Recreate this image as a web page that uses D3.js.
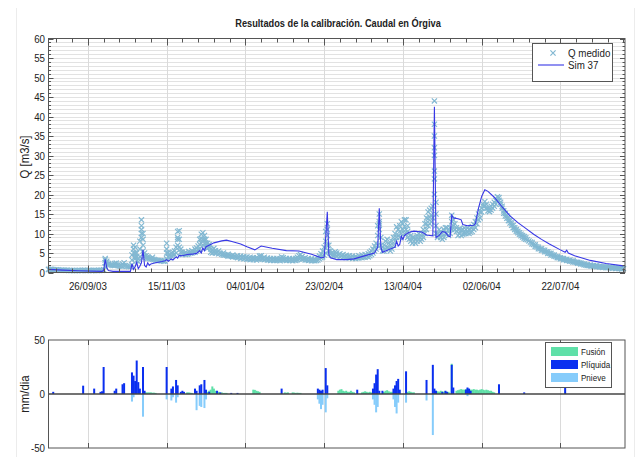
<!DOCTYPE html>
<html><head><meta charset="utf-8">
<script src="https://cdn.jsdelivr.net/npm/d3@7"></script>
<style>
body{margin:0;background:#fff}
text{font-family:"Liberation Sans Narrow","Liberation Sans",Arial,sans-serif;fill:#222}
</style>
</head><body>
<svg id="c" width="638" height="457"></svg>
<script>
// ---------------- DATA ----------------
const titleText = "Resultados de la calibración. Caudal en Órgiva";
const tickDates = ["2003-09-26","2003-11-15","2004-01-04","2004-02-23","2004-04-13","2004-06-02","2004-07-22"];
const tickLabels = ["26/09/03","15/11/03","04/01/04","23/02/04","13/04/04","02/06/04","22/07/04"];
const qTicks = [0,5,10,15,20,25,30,35,40,45,50,55,60];
const pTicks = [-50,0,50];

// observed discharge, daily (several readings on flood days), one array per month
const monthStarts = ["2003-09-01","2003-10-01","2003-11-01","2003-12-01","2004-01-01","2004-02-01",
  "2004-03-01","2004-04-01","2004-05-01","2004-06-01","2004-07-01","2004-08-01"];
const obsSep = [0.8,0.8,0.8,0.7,0.7,0.7,0.7,0.6,0.6,0.6,0.6,0.6,0.6,0.5,0.5,0.5,0.5,0.5,0.5,0.5,
  0.5,0.5,0.6,0.6,0.5,0.5,0.5,0.5,0.5,0.6];
const obsOct = [0.5,0.5,0.5,0.6,0.6,0.7,[1.5,2.5,3.6,3.2],[2.9,2.5],[2.3,2.0],2.0,1.9,1.8,[1.8,2.3],[1.9,2.4],
  1.9,1.7,1.6,[1.6,2.2],[1.8,2.5],1.8,1.6,1.5,1.5,[2,3.2,4.5],[5,7,6],[4,6.5,3.5,5],[3,4,5],[2.8,3.5],
  [4,6,8],[9,11,13.5,12,10],[10,8.5,7,5.5]];
const obsNov = [[5,4.2],[4.3,3.8],[4,3.6],3.6,3.5,[3.4,3.9],3.3,3.2,3.1,3.1,3.0,3.0,2.9,2.9,
  [3.5,5,6,7.5],[5,4],[4.5,3.8],[4.2,5],[4.4,5.2],[4.6,5.5],[5,6.5],[7,8.5,10.5,9],[10.7,8.5,6.5],
  [6,5.2],[5.2,4.6],4.8,[4.6,5.2],4.7,[4.8,5.4],5.0];
const obsDec = [[5,5.6],5.2,[5.2,6],[5.5,6.3],[5.8,6.8],[6,7.2,8.5],[7.5,8.7,9.8],[8.5,10.2,7],[7.5,8.5,9.5],
  [6.5,7.5,8.5],[6.2,7.5],[6.5,7.2],[5.2,6],[5,5.8],[5.2,6.2],[5,5.6],5.2,[4.8,5.5],4.9,4.7,[4.5,5],
  4.5,4.4,[4.2,4.7],4.3,4.2,[4,4.5],4.1,4.0,[3.8,4.3],3.9];
const obsJan = [[3.6,4.2],3.8,[3.5,4.1],3.7,[3.4,4],3.6,[3.3,3.9],3.5,[3.3,3.8],3.5,[3.2,3.8],3.4,
  [3.5,4.2],[3.6,4.3],3.6,[3.3,3.9],3.4,[3.2,3.7],3.3,[3.1,3.6],3.3,[3.1,3.6],3.2,[3.1,3.6],3.2,
  [3,3.5],[3.4,4],[3.3,3.8],3.3,[3.1,3.6],3.2];
const obsFeb = [[3.1,3.6],3.2,[3,3.5],3.2,[3.1,3.6],[3.3,3.9],[3.5,4.3],[3.6,4.6],[3.4,4.1],3.5,
  [3.2,3.8],3.3,[3.1,3.6],3.2,[3,3.5],3.1,[3,3.4],3.1,[3.2,3.8],[3.5,4.2],[3.8,4.8],[4,5.5],
  [4.5,6.5],[5,8,10.5],[12.5,11,9.5,7],[7,5.5],[5.5,4.8],[5,4.5],[4.8,4.3]];
const obsMar = [[4.5,5.3],[4.3,5],4.5,[4,4.8],4.3,[3.9,4.6],4.1,[3.8,4.4],4.0,[3.7,4.3],3.9,
  [3.6,4.2],3.8,[3.6,4.1],3.8,[3.7,4.3],3.9,[3.8,4.5],4.0,[3.9,4.6],4.2,[4,4.8],[4.3,5.2],
  [4.6,5.5],[5,6],[5.5,6.8],[6,7.5],[7,9.5,12],[12.5,15,13,11],[9,7],[6.5,5.5]];
const obsApr = [[5.5,7],[6,8],[6.5,8.5],[6,7.5],[5.5,7],[6,8],[7,9],[8,10],[9,11.7],[9.5,11],
  [9,10.5,12],[10,13],[11,12.5],[10,11.8,13.5],[11,13.5],[9,10.5,12],[8.5,10],[8,9.5],[7.5,9],[8,9],[7.5,8.5],
  [8,9.5],[8.5,10],[8,9],[8.5,10],[9,11],[10,12.5],[11,12.5,14],[12,13.8,15.5],[12.5,14.2,16]];
const obsMay = [[13,14.8,16.5],[14,17],[20,26,32,38,44,35,30,24],[18,15,12,10],[10,9],[9.5,11],[9,10.5],[8.5,10],
  [9,11],[10,11.5],[10,11.5],[9.5,11],[10,11.5],[11,13,14.7],[12,13.5],[11,12.5],[10.5,11.5],
  [9.5,11],[10,11.2],[9.5,10.8],[9.8,11],[10,11.4],[10,11],[10.2,11.4],[10,11],[10.3,11.5],
  [10.5,11.8],[11,12.3],[11.5,13],[12.5,14],[13.5,15]];
const obsJun = [[14,15.5],[15.5,16.5],[17,17.5],[18.2,17],[16.5,17.5],[15.8,16.5],[15.6,16.2],
  [16,17],[16.5,17.5],[17,18],[17.5,18.5],[18.5,19.4],[19.2,18.5],[17.5,18],[16.5,17],
  [15.2,15.8],[14.5,15.1],[13.9,14.5],[13.3,13.9],[12.7,13.3],[12.1,12.7],[11.5,12.1],
  [11,11.5],[10.6,11],[10.2,10.6],[9.8,10.2],[9.4,9.8],[9.1,9.5],[8.8,9.2],[8.5,8.9]];
const obsJul = [8.4,8.1,7.8,[7.3,7.7],7.2,[6.7,7.1],6.6,[6.1,6.5],6.1,[5.7,6.1],5.7,[5.3,5.7],5.3,
  [4.9,5.3],4.9,[4.5,4.9],4.5,[4.2,4.5],4.1,[3.8,4.1],3.8,[3.5,3.8],3.6,[3.3,3.6],3.3,[3.1,3.4],
  3.1,[2.9,3.2],2.9,[2.7,3.0],2.7];
const obsAug = [2.6,[2.4,2.6],2.4,[2.2,2.4],2.2,[2.0,2.2],1.9,[1.8,2.0],1.8,[1.7,1.9],1.7,[1.6,1.8],
  1.6,[1.5,1.7],1.5,[1.4,1.6],1.4,[1.3,1.5],1.4,[1.2,1.4],1.3,[1.2,1.4],1.2,[1.1,1.3],1.2,
  [1.0,1.2],1.1,[1.0,1.2],1.0,[0.9,1.1],1.0];
const obsMonths = [obsSep,obsOct,obsNov,obsDec,obsJan,obsFeb,obsMar,obsApr,obsMay,obsJun,obsJul,obsAug];

// simulated discharge "Sim 37"
const simSeries = [["2003-09-01",0.8],["2003-09-10",0.6],["2003-09-20",0.45],["2003-10-05",0.3],
 ["2003-10-06",0.5],["2003-10-07",3.4],["2003-10-08",1.2],["2003-10-09",0.5],["2003-10-12",0.3],
 ["2003-10-23",0.3],["2003-10-24",2.2],["2003-10-25",0.8],["2003-10-26",1.5],["2003-10-27",2.6],
 ["2003-10-28",1.0],["2003-10-29",1.6],["2003-10-30",2.5],["2003-10-31",5.8],["2003-11-01",1.8],
 ["2003-11-02",1.4],["2003-11-03",2.5],["2003-11-04",1.8],["2003-11-05",2.2],["2003-11-08",2.5],
 ["2003-11-12",2.8],["2003-11-14",3.0],["2003-11-15",3.3],["2003-11-16",2.9],["2003-11-18",3.5],
 ["2003-11-19",3.2],["2003-11-21",4.0],["2003-11-22",3.7],["2003-11-23",4.4],["2003-11-25",4.3],
 ["2003-11-28",4.6],["2003-12-01",4.7],["2003-12-04",4.9],["2003-12-06",5.6],["2003-12-07",5.0],
 ["2003-12-08",6.3],["2003-12-09",5.6],["2003-12-10",6.6],["2003-12-12",7.0],["2003-12-15",7.6],
 ["2003-12-20",8.1],["2003-12-23",8.3],["2003-12-27",7.9],["2004-01-01",7.3],["2004-01-05",6.6],
 ["2004-01-10",5.8],["2004-01-14",6.8],["2004-01-21",6.2],["2004-01-30",5.6],["2004-02-07",5.5],
 ["2004-02-15",4.7],["2004-02-21",3.8],["2004-02-23",3.9],["2004-02-24",9.0],["2004-02-25",15.6],
 ["2004-02-26",4.5],["2004-02-27",3.8],["2004-03-02",3.3],["2004-03-08",3.3],["2004-03-13",3.5],
 ["2004-03-19",4.2],["2004-03-26",5.0],["2004-03-28",6.5],["2004-03-29",16.5],["2004-03-30",6.5],
 ["2004-03-31",5.2],["2004-04-05",6.0],["2004-04-08",6.5],["2004-04-09",8.0],["2004-04-10",6.8],
 ["2004-04-11",7.2],["2004-04-12",9.3],["2004-04-13",8.5],["2004-04-14",9.5],["2004-04-15",9.8],
 ["2004-04-17",10.3],["2004-04-20",10.6],["2004-04-25",10.4],["2004-04-28",9.6],["2004-05-02",9.4],
 ["2004-05-03",42.5],["2004-05-04",9.0],["2004-05-06",9.5],["2004-05-08",10.5],["2004-05-10",10.3],
 ["2004-05-12",9.3],["2004-05-13",9.2],["2004-05-14",14.7],["2004-05-15",14.0],["2004-05-18",13.8],
 ["2004-05-20",13.5],["2004-05-21",12.3],["2004-05-24",12.0],["2004-05-28",12.1],["2004-05-29",12.5],
 ["2004-05-31",16.5],["2004-06-02",19.5],["2004-06-04",21.2],["2004-06-06",20.8],["2004-06-10",19.3],
 ["2004-06-15",16.8],["2004-06-20",14.5],["2004-06-25",12.8],["2004-06-30",11.3],["2004-07-05",9.8],
 ["2004-07-10",8.5],["2004-07-15",7.3],["2004-07-22",5.8],["2004-07-25",5.2],["2004-07-26",5.7],
 ["2004-07-27",5.0],["2004-07-31",4.3],["2004-08-10",3.1],["2004-08-20",2.3],["2004-08-31",1.7]];

// daily precipitation / melt (mm/dia)
const pLiquida = [["2003-09-04",2],["2003-09-23",7.7],["2003-09-30",5],["2003-10-04",2],["2003-10-05",2.5],
 ["2003-10-06",25],["2003-10-13",3],["2003-10-14",5],["2003-10-18",9],["2003-10-19",10],["2003-10-24",20],
 ["2003-10-25",17],["2003-10-26",12],["2003-10-27",31],["2003-10-28",11],["2003-10-29",5],["2003-10-31",25],
 ["2003-11-01",3],["2003-11-15",25],["2003-11-18",5],["2003-11-19",7],["2003-11-21",13],["2003-11-22",8],
 ["2003-11-24",2],["2003-11-25",3],["2003-11-26",2],["2003-12-03",5],["2003-12-04",3],["2003-12-06",8],
 ["2003-12-07",9],["2003-12-09",13],["2003-12-10",4],["2003-12-12",2],["2003-12-17",3],["2003-12-19",1.5],
 ["2003-12-26",1],["2003-12-30",1],["2004-01-27",5],["2004-02-19",5],["2004-02-20",4],["2004-02-21",3],
 ["2004-02-22",4],["2004-02-24",24],["2004-02-25",8],["2004-03-15",4],["2004-03-25",5],["2004-03-26",10],
 ["2004-03-27",18],["2004-03-28",23],["2004-03-29",3],["2004-03-31",3],["2004-04-07",5],["2004-04-08",8],
 ["2004-04-09",12],["2004-04-10",14],["2004-04-11",4],["2004-04-15",21],["2004-04-28",13],["2004-05-02",27],
 ["2004-05-03",5],["2004-05-04",3],["2004-05-08",2],["2004-05-10",3],["2004-05-11",2],["2004-05-14",27],
 ["2004-05-15",6],["2004-05-23",4],["2004-05-24",6],["2004-05-25",5],["2004-05-26",3],["2004-06-13",9],
 ["2004-06-29",1.5],["2004-07-25",6]];
const pNieve = [["2003-10-24",-7],["2003-10-25",-3],["2003-10-31",-21],["2003-11-15",-5],["2003-11-18",-6],
 ["2003-11-19",-3],["2003-11-21",-8],["2003-11-22",-3],["2003-12-04",-15],["2003-12-06",-11],
 ["2003-12-07",-12],["2003-12-09",-13],["2003-12-10",-5],["2004-02-19",-5],["2004-02-20",-9],
 ["2004-02-21",-14],["2004-02-22",-10],["2004-02-24",-17],["2004-02-25",-4],["2004-03-25",-5],
 ["2004-03-26",-10],["2004-03-27",-17],["2004-03-28",-12],["2004-04-07",-5],["2004-04-08",-12],
 ["2004-04-09",-18],["2004-04-10",-8],["2004-04-15",-8],["2004-04-28",-6],["2004-05-02",-38],["2004-05-24",-2]];
// snow melt, runs of consecutive days: [first day, values]
const fusionRuns = [["2003-11-02",[1.5,1.5,1.5,1.5,1.2,1.2,1]],["2003-11-28",[1.5,1.5,1.2,1]],
 ["2003-12-11",[2,3,4,7,5,3,2,2]],["2003-12-20",[1.5,1,1,1]],["2004-01-09",[4,3.8,3,2.5,2]],
 ["2004-01-29",[1.5,1.2,1.5]],["2004-02-03",[1.5,1.3,1,1.2,1,1]],
 ["2004-03-03",[3,4,4.5,3,2.5,3,2,2,3,2,1.5]],["2004-03-18",[1.5,2,2.5,2,1.5,2,1.5]],
 ["2004-04-01",[2,3,3.5,2.5,2,2]],["2004-04-16",[2,2.5,2,1.5,1.5]],
 ["2004-05-03",[2.5,3,2.5,2,3,2.5,2,2.5,2,2]],["2004-05-14",[28]],
 ["2004-05-17",[3,3.5,4,4.5,4,4,4.5,5,4.5,4,4,4.5,4,4,3.5,4,4.5,4,3.5,4,3.5,3,3,2,1.5]]];

// ---------------- CHART ----------------
const P = d3.utcParse("%Y-%m-%d");
const svg = d3.select("#c");
const L = 48.5, R = 625, T1 = 38.5, B1 = 272.5, T2 = 340, B2 = 448;
const SX = 0.85; // narrow lettering
const x = d3.scaleUtc().domain([P("2003-09-01"), P("2004-09-01")]).range([L, R]);
const y = d3.scaleLinear().domain([0, 60]).range([B1, T1]);
const yb = d3.scaleLinear().domain([-50, 50]).range([B2, T2]);
const majors = tickDates.map(P);
const minors = d3.utcDay.every(1).range(P("2003-09-06"), P("2004-09-01")).filter((d,i)=> i % 10 === 0);

function txt(parent, tx, ty, s, size, anchor, opts){
  const t = parent.append("text")
    .attr("transform", `translate(${tx},${ty}) ${opts && opts.rot ? "rotate(-90)" : ""} scale(${opts && opts.sx ? opts.sx : SX},1)`)
    .attr("font-size", size).attr("text-anchor", anchor || "start").text(s);
  if (opts && opts.dy) t.attr("dy", opts.dy);
  if (opts && opts.bold) t.attr("font-weight", "bold");
  return t;
}

// faint page frame lines
svg.append("line").attr("x1",16.5).attr("x2",16.5).attr("y1",8).attr("y2",457).attr("stroke","#ececec");
svg.append("line").attr("x1",634.5).attr("x2",634.5).attr("y1",8).attr("y2",457).attr("stroke","#ececec");

// ---- top panel ----
const g1 = svg.append("g");
g1.append("g").selectAll("line").data(d3.range(1,60)).join("line")
  .attr("x1",L).attr("x2",R).attr("y1",d=>Math.round(y(d))+0.5).attr("y2",d=>Math.round(y(d))+0.5)
  .attr("stroke","#e2e2e2").attr("stroke-width",1);
g1.append("g").selectAll("line").data(majors).join("line")
  .attr("x1",d=>Math.round(x(d))+0.5).attr("x2",d=>Math.round(x(d))+0.5).attr("y1",T1).attr("y2",B1)
  .attr("stroke","#dadada");

// observed markers
const obsPts = [];
obsMonths.forEach((arr, m) => {
  const s = P(monthStarts[m]);
  arr.forEach((v, i) => {
    const d = d3.utcDay.offset(s, i);
    (Array.isArray(v) ? v : [v]).forEach(q => obsPts.push([d, q]));
  });
});
const XM = "M-2.6,-2.6L2.6,2.6M-2.6,2.6L2.6,-2.6";
g1.append("g").selectAll("path").data(obsPts).join("path")
  .attr("transform", d => `translate(${x(d[0])},${y(d[1])})`)
  .attr("d", XM)
  .attr("stroke","#82b8d2").attr("stroke-width",1.2).attr("fill","none");

// simulated line
g1.append("path").datum(simSeries.map(d=>[P(d[0]), d[1]]))
  .attr("d", d3.line().x(d=>x(d[0])).y(d=>y(d[1])))
  .attr("fill","none").attr("stroke","#3838e6").attr("stroke-width",1.1);

// frame and ticks
g1.append("rect").attr("x",L).attr("y",T1).attr("width",R-L).attr("height",B1-T1)
  .attr("fill","none").attr("stroke","#555").attr("stroke-width",1);
const tk = g1.append("g").attr("stroke","#555").attr("stroke-width",1);
majors.forEach(d=>{ const xx=Math.round(x(d))+0.5;
  tk.append("line").attr("x1",xx).attr("x2",xx).attr("y1",B1).attr("y2",B1-7);
  tk.append("line").attr("x1",xx).attr("x2",xx).attr("y1",T1).attr("y2",T1+7); });
minors.forEach(d=>{ const xx=Math.round(x(d))+0.5;
  tk.append("line").attr("x1",xx).attr("x2",xx).attr("y1",B1).attr("y2",B1-4);
  tk.append("line").attr("x1",xx).attr("x2",xx).attr("y1",T1).attr("y2",T1+4); });
d3.range(0,61).forEach(v=>{ const yy=Math.round(y(v))+0.5, len = v%5===0?5:2.5;
  tk.append("line").attr("x1",L).attr("x2",L+len).attr("y1",yy).attr("y2",yy);
  tk.append("line").attr("x1",R).attr("x2",R-len).attr("y1",yy).attr("y2",yy); });

qTicks.forEach(v => txt(g1, 45, y(v), v, 11.5, "end", {dy:"0.36em"}));
majors.forEach((d,i) => txt(g1, x(d), 290, tickLabels[i], 11.5, "middle"));
txt(g1, 29, 157, "Q [m3/s]", 12, "middle", {rot:true, sx:0.95});
txt(svg, 338, 27, titleText, 11, "middle", {bold:true, sx:0.84});

// legend top
const lg = svg.append("g");
lg.append("rect").attr("x",532.5).attr("y",43.5).attr("width",80).attr("height",38)
  .attr("fill","#fff").attr("stroke","#555");
lg.append("path").attr("transform","translate(553,53)").attr("d",XM)
  .attr("stroke","#82b8d2").attr("stroke-width",1.2).attr("fill","none");
lg.append("line").attr("x1",538).attr("x2",564).attr("y1",65).attr("y2",65).attr("stroke","#3838e6").attr("stroke-width",1.1);
txt(lg, 568, 57, "Q medido", 11.5, "start");
txt(lg, 568, 69, "Sim 37", 11.5, "start");

// ---- bottom panel ----
const g2 = svg.append("g");
g2.append("g").selectAll("line").data(majors).join("line")
  .attr("x1",d=>Math.round(x(d))+0.5).attr("x2",d=>Math.round(x(d))+0.5).attr("y1",T2).attr("y2",B2)
  .attr("stroke","#dadada");
const fusionPts = [];
fusionRuns.forEach(r => { const s = P(r[0]); r[1].forEach((v,i)=>fusionPts.push([d3.utcDay.offset(s,i), v])); });
function bars(data, color){
  g2.append("g").selectAll("rect").data(data.map(d=>[d[0] instanceof Date ? d[0] : P(d[0]), d[1]])).join("rect")
    .attr("x", d=>x(d[0]) - 1).attr("width",2)
    .attr("y", d=>Math.min(yb(d[1]), yb(0))).attr("height", d=>Math.abs(yb(d[1]) - yb(0)))
    .attr("fill", color);
}
bars(fusionPts, "#5fe0a8");
bars(pLiquida, "#0a2ff0");
bars(pNieve, "#86ccfb");
g2.append("line").attr("x1",L).attr("x2",R).attr("y1",yb(0)).attr("y2",yb(0)).attr("stroke","#444").attr("stroke-width",1.3);
g2.append("rect").attr("x",L).attr("y",T2).attr("width",R-L).attr("height",B2-T2)
  .attr("fill","none").attr("stroke","#555");
majors.forEach(d=>{ const xx=Math.round(x(d))+0.5;
  g2.append("line").attr("x1",xx).attr("x2",xx).attr("y1",B2).attr("y2",B2-5).attr("stroke","#555");
  g2.append("line").attr("x1",xx).attr("x2",xx).attr("y1",T2).attr("y2",T2+5).attr("stroke","#555"); });
pTicks.forEach(v => txt(g2, 45, yb(v), v, 11.5, "end", {dy:"0.36em"}));
txt(g2, 29, 394, "mm/dia", 12, "middle", {rot:true, sx:0.95});

// legend bottom
const lb = svg.append("g");
lb.append("rect").attr("x",545.5).attr("y",342.5).attr("width",66).attr("height",45).attr("fill","#fff").attr("stroke","#555");
[["Fusión","#5fe0a8",347],["Plíquida","#0a2ff0",360],["Pnieve","#86ccfb",373]].forEach(e=>{
  lb.append("rect").attr("x",551).attr("y",e[2]).attr("width",27).attr("height",9).attr("fill",e[1]);
  txt(lb, 581, e[2]+8, e[0], 9.5, "start");
});
</script>
</body></html>
